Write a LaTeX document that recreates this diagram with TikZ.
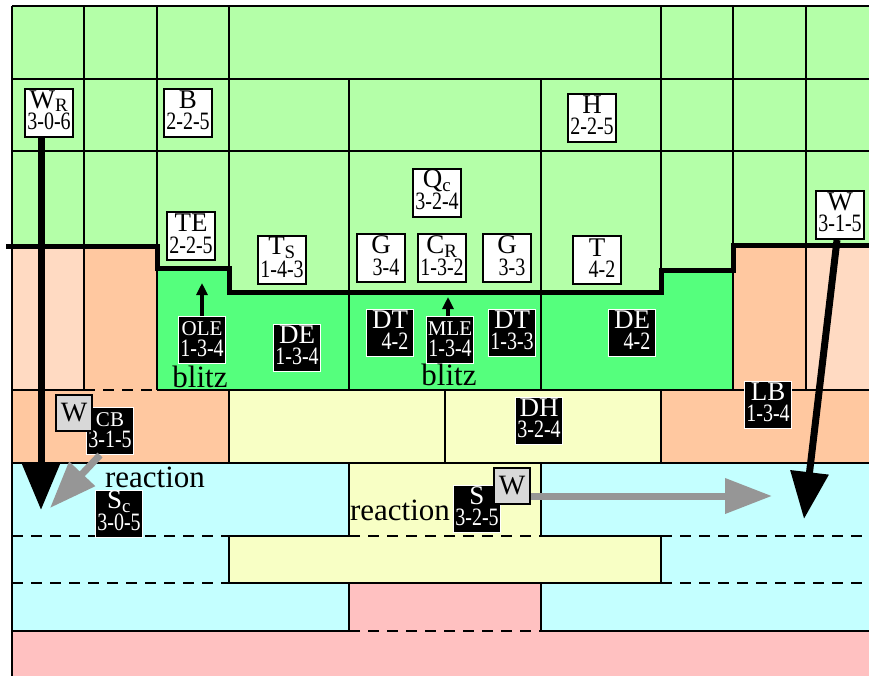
\documentclass[tikz,border=0pt]{standalone}
\usepackage{fontspec}
\setmainfont{Liberation Serif}
\usepackage{graphicx}
\usetikzlibrary{arrows.meta}

\definecolor{lgreen}{RGB}{180,255,168}
\definecolor{dgreen}{RGB}{85,255,125}
\definecolor{lpeach}{RGB}{255,218,194}
\definecolor{salmon}{RGB}{255,200,160}
\definecolor{lyellow}{RGB}{248,255,197}
\definecolor{lcyan}{RGB}{196,255,255}
\definecolor{lpink}{RGB}{255,193,193}
\definecolor{wgray}{RGB}{216,216,216}
\definecolor{agray}{RGB}{150,150,150}

\renewcommand{\arraystretch}{0}
\newcommand{\unitlbl}[2]{\begin{tabular}[b]{@{}c@{}}\fontsize{27}{27}\selectfont\rule[-3pt]{0pt}{3pt}#1\\\fontsize{25}{25}\selectfont\rule{0pt}{18pt}\scalebox{0.8}[1]{#2}\end{tabular}}

\begin{document}
\begin{tikzpicture}[x=1pt,y=-1pt,
  grid/.style={line width=2pt},
  dashline/.style={line width=2pt,dash pattern=on 11pt off 8pt},
  rim/.style={line width=5pt,line join=miter},
  unit/.style={draw=black,fill=white,line width=2pt,inner sep=0pt,minimum size=48pt,text height=41pt,text depth=7pt},
  dark/.style={draw=white,fill=black,text=white,line width=1pt,inner sep=0pt,minimum size=47pt,text height=40pt,text depth=7pt},
  wbox/.style={draw=black,fill=wgray,line width=2pt,inner sep=0pt,minimum size=36pt,font=\fontsize{28}{28}\selectfont},
  tag/.style={inner sep=0pt,font=\fontsize{31}{31}\selectfont},
  bigarrow/.style={line width=7pt,-{Triangle[length=47pt,width=37pt]}},
  grayarrow/.style={agray,line width=7pt,-{Triangle[length=47pt,width=34pt]}},
  uparrow/.style={line width=4pt,-{Triangle[length=12pt,width=11pt]}}]
  \useasboundingbox (0,0) rectangle (869,676);

  \fill[lgreen] (12,6) rectangle (869,292);
  \fill[lpeach] (12,246) rectangle (84,390);
  \fill[salmon] (84,246) rectangle (157,390);
  \fill[dgreen] (157,268) -- (229,268) -- (229,292) -- (661,292) -- (661,270) -- (733,270) -- (733,390) -- (157,390) -- cycle;
  \fill[salmon] (733,245) rectangle (806,390);
  \fill[lpeach] (806,245) rectangle (869,390);
  \fill[salmon] (12,390) rectangle (229,463);
  \fill[lyellow] (229,390) rectangle (661,463);
  \fill[salmon] (661,390) rectangle (869,463);
  \fill[lcyan] (12,463) rectangle (869,631);
  \fill[lyellow] (349,463) rectangle (541,536);
  \fill[lyellow] (229,536) rectangle (661,583);
  \fill[lpink] (349,583) rectangle (541,631);
  \fill[lpink] (12,631) rectangle (869,676);

  \draw[grid] (12,6) -- (869,6);
  \draw[grid] (12,79) -- (869,79);
  \draw[grid] (12,151) -- (869,151);
  \draw[grid] (12,6) -- (12,676);
  \draw[grid] (84,6) -- (84,390);
  \draw[grid] (157,6) -- (157,390);
  \draw[grid] (229,6) -- (229,268);
  \draw[grid] (349,79) -- (349,390);
  \draw[grid] (541,79) -- (541,390);
  \draw[grid] (661,6) -- (661,270);
  \draw[grid] (733,6) -- (733,390);
  \draw[grid] (806,6) -- (806,390);
  \draw[grid] (12,390) -- (84,390);
  \draw[dashline] (84,390) -- (157,390);
  \draw[grid] (157,390) -- (869,390);
  \draw[grid] (229,390) -- (229,463);
  \draw[grid] (445,390) -- (445,463);
  \draw[grid] (661,390) -- (661,463);
  \draw[grid] (12,463) -- (869,463);
  \draw[grid] (349,463) -- (349,536);
  \draw[grid] (541,463) -- (541,536);
  \draw[dashline] (12,536) -- (229,536);
  \draw[grid] (229,536) -- (349,536);
  \draw[dashline] (349,536) -- (541,536);
  \draw[grid] (541,536) -- (661,536);
  \draw[dashline] (661,536) -- (869,536);
  \draw[grid] (229,536) -- (229,583);
  \draw[grid] (661,536) -- (661,583);
  \draw[dashline] (12,583) -- (229,583);
  \draw[grid] (229,583) -- (661,583);
  \draw[dashline] (661,583) -- (869,583);
  \draw[grid] (349,583) -- (349,631);
  \draw[grid] (541,583) -- (541,631);
  \draw[grid] (12,631) -- (349,631);
  \draw[dashline] (349,631) -- (541,631);
  \draw[grid] (541,631) -- (869,631);
  \draw[rim] (6,246) -- (157,246) -- (157,268) -- (229,268) -- (229,292) -- (661,292) -- (661,270) -- (733,270) -- (733,245) -- (869,245);

  \node[unit] (wr) at (49,113) {\unitlbl{W\textsubscript{R}}{3-0-6}};
  \node[unit] (b) at (188,113) {\unitlbl{B}{2-2-5}};
  \node[unit] (h) at (592,118) {\unitlbl{H}{2-2-5}};
  \node[unit] (qc) at (437,193) {\unitlbl{Q\textsubscript{c}}{3-2-4}};
  \node[unit] (te) at (191,236) {\unitlbl{TE}{2-2-5}};
  \node[unit] (ts) at (282,260) {\unitlbl{T\textsubscript{S}}{1-4-3}};
  \node[unit] (g1) at (381,258) {\unitlbl{G}{\phantom{0}3-4}};
  \node[unit] (cr) at (442,258) {\unitlbl{C\textsubscript{R}}{1-3-2}};
  \node[unit] (g2) at (507,258) {\unitlbl{G}{\phantom{0}3-3}};
  \node[unit] (t) at (597,260) {\unitlbl{T}{\phantom{0}4-2}};
  \node[unit] (wc) at (840,215) {\unitlbl{W}{3-1-5}};

  \node[dark] (ole) at (202,340) {\unitlbl{\fontsize{21}{21}\selectfont OLE}{1-3-4}};
  \node[dark] (de1) at (297,348) {\unitlbl{DE}{1-3-4}};
  \node[dark] (dt1) at (390,333) {\unitlbl{DT}{\phantom{0}4-2}};
  \node[dark] (mle) at (450,340) {\unitlbl{\fontsize{21}{21}\selectfont MLE}{1-3-4}};
  \node[dark] (dt2) at (512,333) {\unitlbl{DT}{1-3-3}};
  \node[dark] (de2) at (632,333) {\unitlbl{DE}{\phantom{0}4-2}};
  \node[dark] (dh) at (539,421) {\unitlbl{DH}{3-2-4}};
  \node[dark] (lb) at (768,405) {\unitlbl{LB}{1-3-4}};
  \node[dark] (cb) at (110,431) {\unitlbl{\fontsize{21}{21}\selectfont CB}{3-1-5}};
  \node[dark] (sc) at (119,514) {\unitlbl{S\textsubscript{c}}{3-0-5}};
  \node[dark] (s325) at (477,509) {\unitlbl{S}{3-2-5}};

  \node[wbox] (wa) at (74,413) {W};
  \node[wbox] (wb) at (512,486) {W};

  \node[tag] (blitza) at (200,377) {blitz};
  \node[tag] (blitzb) at (449,375) {blitz};
  \node[tag] (reacta) at (155,477) {reaction};
  \node[tag] (reactb) at (400,510) {reaction};

  \coordinate (wrend) at (41,510);
  \coordinate (wcend) at (804,519);
  \coordinate (cbend) at (50,508);
  \coordinate (wbend) at (772,496);
  \coordinate (oletop) at (202,283);
  \coordinate (mletop) at (448,297);
  \draw[bigarrow] (wr.south -| wrend) -- (wrend);
  \draw[bigarrow] ([xshift=-3pt]wc.south) -- (wcend);
  \draw[grayarrow] ([xshift=-10pt]cb.south) -- (cbend);
  \draw[grayarrow] (wb.east |- wbend) -- (wbend);
  \draw[uparrow] (ole.north) -- (oletop);
  \draw[uparrow] (mle.north -| mletop) -- (mletop);
\end{tikzpicture}
\end{document}
